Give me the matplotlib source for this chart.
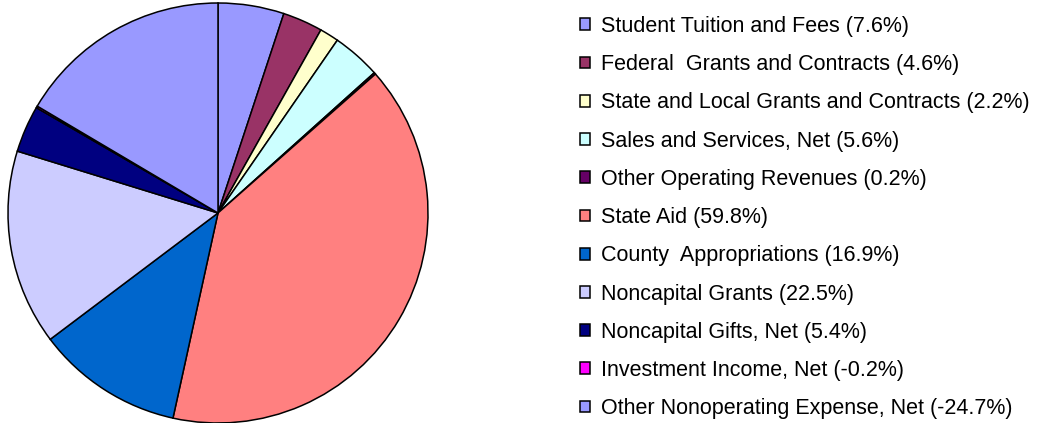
import matplotlib.pyplot as plt

labels = ['Student Tuition and Fees', 'Federal  Grants and Contracts',
          'State and Local Grants and Contracts', 'Sales and Services, Net',
          'Other Operating Revenues', 'State Aid', 'County  Appropriations',
          'Noncapital Grants', 'Noncapital Gifts, Net', 'Investment Income, Net',
          'Other Nonoperating Expense, Net']
percents = [7.6, 4.6, 2.2, 5.6, 0.2, 59.8, 16.9, 22.5, 5.4, -0.2, -24.7]
colors = ['#9999FF', '#993366', '#FFFFCC', '#CCFFFF', '#660066', '#FF8080',
          '#0066CC', '#CCCCFF', '#000080', '#FF00FF', '#9999FF']

plt.rcParams['font.family'] = ['Liberation Sans', 'DejaVu Sans']

fig = plt.figure(figsize=(10.43, 4.23), dpi=100)
ax = fig.add_axes([8 / 1043, 0, 420 / 1043, 420 / 423])

# slice sizes use the absolute values
sizes = [abs(p) for p in percents]
wedges, _ = ax.pie(sizes, colors=colors, startangle=90, counterclock=False,
                   wedgeprops={'edgecolor': 'black', 'linewidth': 1.1})
ax.set_xlim(-1.0, 1.0)
ax.set_ylim(-1.0, 1.0)
ax.set_aspect('equal')

legend_labels = ['%s (%.1f%%)' % (l, p) for l, p in zip(labels, percents)]
fig.legend(wedges, legend_labels, loc='upper left',
           bbox_to_anchor=(580 / 1043, 1 - 16 / 423), frameon=False,
           fontsize=15.5, handlelength=0.47, handleheight=0.47,
           handletextpad=0.5, labelspacing=0.8, borderpad=0, borderaxespad=0)

plt.savefig('out.png', dpi=100)
